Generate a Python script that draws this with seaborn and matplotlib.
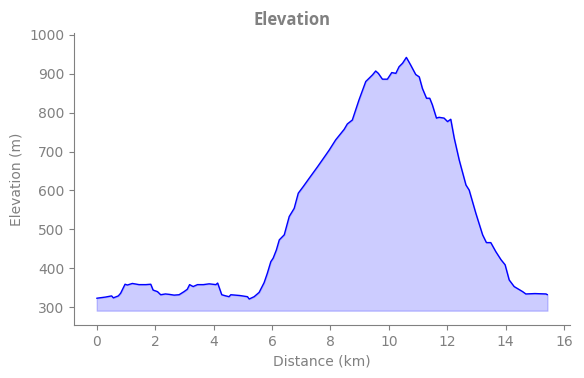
import numpy as np
import pandas as pd
import matplotlib
matplotlib.use("Agg")
import matplotlib.pyplot as plt
import seaborn as sns

# ──────────────────────────────────────────
# DATA
# ──────────────────────────────────────────
distance_km = [0.00, 0.30, 0.51, 0.57, 0.74, 0.82, 0.97, 1.05, 1.22, 1.45,
               1.68, 1.85, 1.93, 2.08, 2.19, 2.35, 2.48, 2.65, 2.82, 2.99,
               3.10, 3.18, 3.30, 3.45, 3.65, 3.85, 4.08, 4.14, 4.28, 4.42,
               4.53, 4.59, 4.90, 5.16, 5.22, 5.39, 5.56, 5.73, 5.84, 5.96,
               6.04, 6.15, 6.25, 6.42, 6.59, 6.76, 6.90, 7.07, 7.27, 7.56,
               7.84, 7.96, 8.18, 8.47, 8.58, 8.75, 8.98, 9.21, 9.44, 9.55,
               9.64, 9.78, 9.95, 10.10, 10.24, 10.35, 10.47, 10.60, 10.75, 10.92,
               11.04, 11.15, 11.29, 11.40, 11.49, 11.63, 11.72, 11.89, 12.01, 12.12,
               12.24, 12.41, 12.64, 12.75, 12.98, 13.21, 13.34, 13.49, 13.66, 13.84,
               13.98, 14.12, 14.29, 14.58, 14.69, 15.00, 15.38, 15.43]

elevation_m = [323, 326, 329, 324, 329, 336, 359, 357, 361, 358,
               358, 359, 344, 340, 332, 334, 333, 331, 332, 340,
               346, 358, 353, 358, 358, 360, 358, 362, 332, 329,
               327, 332, 330, 327, 321, 327, 338, 363, 387, 417,
               426, 447, 473, 486, 533, 554, 593, 610, 631, 661,
               691, 704, 730, 757, 771, 781, 833, 880, 897, 907,
               901, 886, 886, 903, 901, 918, 927, 942, 922, 898,
               892, 862, 837, 837, 820, 786, 788, 786, 777, 783,
               734, 678, 614, 601, 541, 486, 466, 466, 443, 422,
               409, 370, 353, 340, 334, 335, 334, 332]

df = pd.DataFrame({"Distance": distance_km, "Elevation": elevation_m})
baseline = df["Elevation"].min() - 30

# ──────────────────────────────────────────
# PLOT
# ──────────────────────────────────────────
sns.set_style("ticks")
plt.rcParams["font.family"] = ["DejaVu Sans"]
text_gray = "gray"

fig, ax = plt.subplots(figsize=(5.84, 3.78), dpi=100)
fig.subplots_adjust(left=0.127, right=0.976, bottom=0.14, top=0.912)

sns.lineplot(data=df, x="Distance", y="Elevation", color="blue", linewidth=1, ax=ax)
ax.fill_between(df["Distance"], df["Elevation"], baseline, color="blue", alpha=0.2)

ax.set_ylim(254, 1004)
ax.set_xticks(range(0, 17, 2))
ax.set_xlabel("Distance (km)", color=text_gray)
ax.set_ylabel("Elevation (m)", color=text_gray)
ax.tick_params(colors=text_gray, labelcolor=text_gray)
for side in ["left", "bottom"]:
    ax.spines[side].set_color(text_gray)
sns.despine(ax=ax)

fig.suptitle("Elevation", color=text_gray, fontweight="bold", fontsize=12,
             family=["Open Sans", "DejaVu Sans"], y=0.972)

plt.savefig("out.png")
